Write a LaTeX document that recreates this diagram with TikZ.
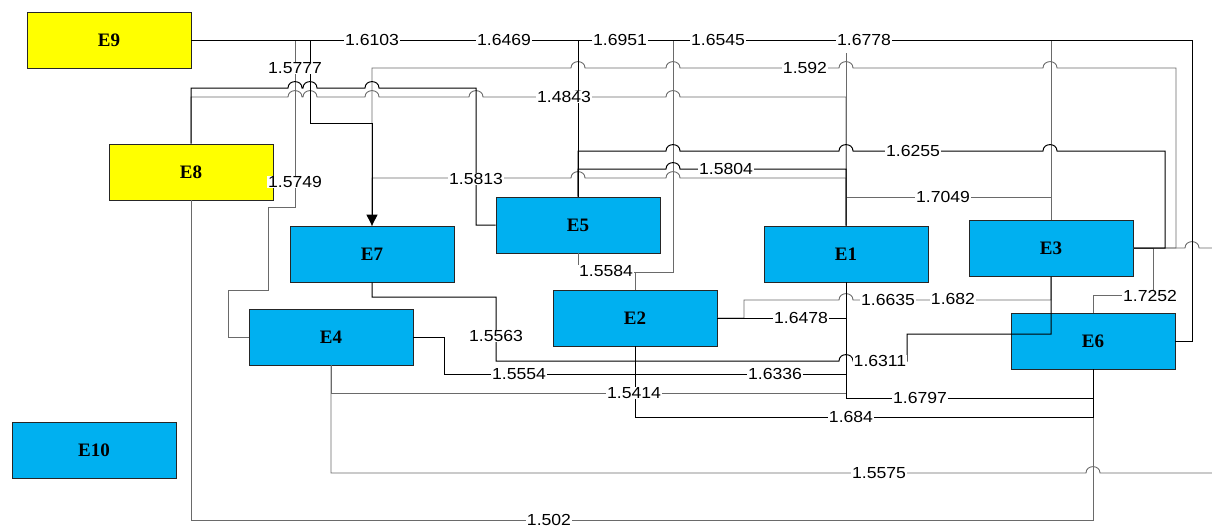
\documentclass[tikz,border=0pt]{standalone}
\usepackage{fontspec}
\newfontfamily\lab[FakeStretch=1.1]{Liberation Sans}
\newfontfamily\boxf{Liberation Serif}
\usetikzlibrary{arrows.meta}
\definecolor{ecyan}{HTML}{00B0F0}
\definecolor{eyel}{HTML}{FFFF00}
\definecolor{wgray}{HTML}{6A6A6A}
\newcommand\jmp[2]{-- ({#1-7},#2) .. controls ({#1-7},{#2-8.5}) and ({#1+7},{#2-8.5}) .. ({#1+7},#2)}
\tikzset{
  ebox/.style={draw=black!85, line width=0.8pt, minimum width=164pt, minimum height=56pt, inner sep=0pt, font=\boxf\bfseries\fontsize{19}{19}\selectfont},
  lbl/.style={fill=white, inner sep=0.8pt, font=\lab\fontsize{16}{16}\selectfont},
  wk/.style={draw=black, line width=1pt},
  wg/.style={draw=wgray, line width=0.9pt}
}
\begin{document}
\begin{tikzpicture}[x=1pt,y=-1pt]
\useasboundingbox (0,0) rectangle (1212,530);
% nodes
\node[ebox,fill=eyel]  (E9)  at (109,40)  {E9};
\node[ebox,fill=eyel]  (E8)  at (191,172) {E8};
\node[ebox,fill=ecyan] (E7)  at (372,254) {E7};
\node[ebox,fill=ecyan] (E5)  at (578,225) {E5};
\node[ebox,fill=ecyan] (E1)  at (846,254) {E1};
\node[ebox,fill=ecyan] (E3)  at (1051,248) {E3};
\node[ebox,fill=ecyan] (E2)  at (635,318) {E2};
\node[ebox,fill=ecyan] (E4)  at (331,337) {E4};
\node[ebox,fill=ecyan] (E6)  at (1093,341) {E6};
\node[ebox,fill=ecyan] (E10) at (94,450)  {E10};
\coordinate (t1) at (846,53);
\coordinate (rA) at (1212,248);
\coordinate (rB) at (1212,473);
% gray connectors
\draw[wg] (E9.east) -| (295,207) -- (268,207) -- (268,290) -- (228,290) |- (E4.west);
\draw[wg] (E9.east) -| (673,272) -| (E2.north);
\draw[wg] (t1) -- (E1.north);
\draw[wg] (E9.east) -| (E3.north);
\draw[wg] (E7.north) -- (372,68) \jmp{578}{68} \jmp{673}{68} \jmp{846}{68} \jmp{1050}{68} -- (1176,68) |- (E3.east);
\draw[wg] (E8.north) -- (191,97) \jmp{295}{97} \jmp{310}{97} \jmp{372}{97} \jmp{476}{97} \jmp{578}{97} \jmp{673}{97} -- (846,97) -- (E1.north);
\draw[wg] (E7.north) -- (372,178) \jmp{578}{178} \jmp{673}{178} -- (846,178) -- (E1.north);
\draw[wg] (E1.north) -- (846,197) -| (E3.north);
\draw[wg] (E5.south) -- (578,272) -| (E2.north);
\draw[wg] (E3.east) \jmp{1192}{248} -- (rA);
\draw[wg] (E6.north) -- (1093,295) -- (1153,295) |- (E3.east);
\draw[wg] (E2.east) -- (744,318) -- (744,300) \jmp{846}{300} -- (1051,300) -- (E3.south);
\draw[wg] (E4.south) -- (331,393) -- (846,393);
\draw[wg] (E4.south) -- (331,473) \jmp{1093}{473} -- (rB);
\draw[wg] (E8.south) -- (191,520) -| (E6.south);
% black connectors
\draw[wk] (E9.east) -- (1192,40) |- (E6.east);
\draw[wk] (E9.east) -| (E5.north);
\draw[wk] (E8.north) -- (191,88) \jmp{295}{88} \jmp{310}{88} \jmp{372}{88} -- (476,88) |- (E5.west);
\draw[wk] (E5.north) -- (578,151) \jmp{673}{151} \jmp{846}{151} \jmp{1050}{151} -- (1165,151) |- (E3.east);
\draw[wk] (E5.north) -- (578,169) \jmp{673}{169} -- (846,169) -- (E1.north);
\draw[wk] (E1.south) -- (846,398) -| (E6.south);
\draw[wk] (E2.east) -- (E2.east -| E1.south);
\draw[wk] (E7.south) -- (372,297) -- (496,297) -- (496,361) \jmp{846}{361} -- (907,361) -- (907,334) -| (E3.south);
\draw[wk] (E4.east) -- (444,337) -- (444,374) -- (846,374);
\draw[wk] (E2.south) -- (635,417) -| (E6.south);
\draw[wk,-{Triangle[width=11pt,length=11pt]}] (E9.east) -| (310,123) -| (E7.north);
% labels
\node[lbl] (l01) at (372,40)  {1.6103};
\node[lbl] (l02) at (504,40)  {1.6469};
\node[lbl] (l03) at (620,40)  {1.6951};
\node[lbl] (l04) at (718,40)  {1.6545};
\node[lbl] (l05) at (864,40)  {1.6778};
\node[lbl] (l06) at (295,68)  {1.5777};
\node[lbl] (l07) at (295,182) {1.5749};
\node[lbl] (l08) at (805,68)  {1.592};
\node[lbl] (l09) at (564,97)  {1.4843};
\node[lbl] (l10) at (913,151) {1.6255};
\node[lbl] (l11) at (726,169) {1.5804};
\node[lbl] (l12) at (476,179) {1.5813};
\node[lbl] (l13) at (943,197) {1.7049};
\node[lbl] (l14) at (606,271) {1.5584};
\node[lbl] (l15) at (1150,296) {1.7252};
\node[lbl] (l16) at (888,300) {1.6635};
\node[lbl] (l17) at (953,299) {1.682};
\node[lbl] (l18) at (801,318) {1.6478};
\node[lbl] (l19) at (496,336) {1.5563};
\node[lbl] (l20) at (880,361) {1.6311};
\node[lbl] (l21) at (519,374) {1.5554};
\node[lbl] (l22) at (775,374) {1.6336};
\node[lbl] (l23) at (634,393) {1.5414};
\node[lbl] (l24) at (920,398) {1.6797};
\node[lbl] (l25) at (851,417) {1.684};
\node[lbl] (l26) at (879,473) {1.5575};
\node[lbl] (l27) at (549,520) {1.502};
\end{tikzpicture}
\end{document}
